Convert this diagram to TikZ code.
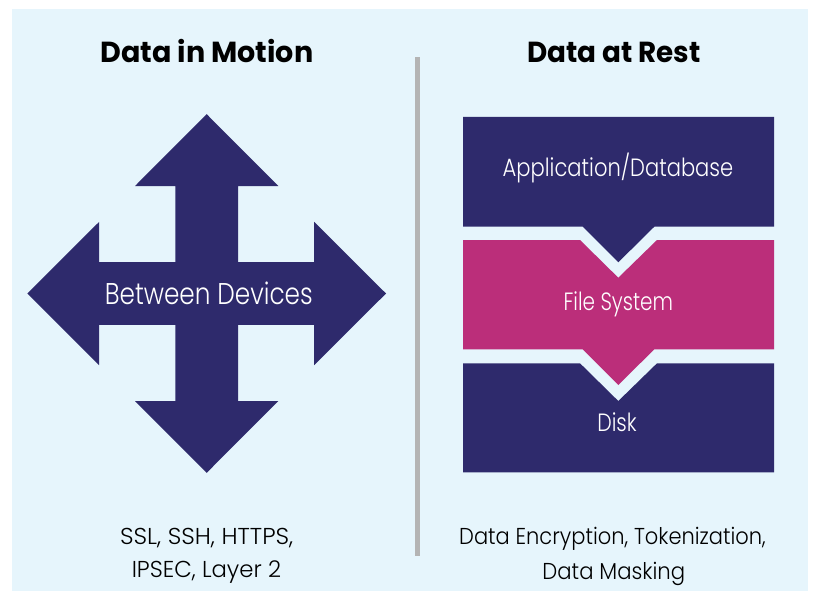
\documentclass[tikz,border=0pt]{standalone}
\usepackage{fontspec}
\usepackage{graphicx}
\setmainfont{Poppins}
\newfontfamily\titlefont{Poppins}[BoldFont={* Bold}]
\newfontfamily\bodyfont{Poppins Light}
\newcommand{\hsq}[2]{\scalebox{#1}[1]{#2}}
\definecolor{bgblue}{HTML}{E6F5FC}
\definecolor{navy}{HTML}{2E2A6C}
\definecolor{pinkish}{HTML}{BB2E7A}
\definecolor{divgray}{HTML}{B4B4B4}
\tikzset{
  titletxt/.style={inner sep=0pt, anchor=base, font=\titlefont\bfseries\fontsize{29}{32}\selectfont, text=black},
  bodytxt/.style={inner sep=0pt, anchor=base, font=\bodyfont\fontsize{23}{26}\selectfont, text=black},
  boxtxt/.style={inner sep=0pt, anchor=base, font=\bodyfont\fontsize{25}{28}\selectfont, text=white},
}
\begin{document}
\begin{tikzpicture}[x=1pt,y=-1pt]
\useasboundingbox (0,0) rectangle (813,591);
\fill[bgblue] (12,9) rectangle (808,591);
% divider
\fill[divgray] (415,57.5) rectangle (419.5,556);
% titles
\node[titletxt] (t1) at (207,63) {\hsq{0.985}{Data in Motion}};
\node[titletxt] (t2) at (614,63) {\hsq{0.96}{Data at Rest}};
% four-way arrow
\begin{scope}[shift={(206.7,293.5)}]
\fill[navy] (0,-179.3) -- (71.7,-107.5) -- (31.3,-107.5) -- (31.3,-31.3)
  -- (107.5,-31.3) -- (107.5,-71.7) -- (179.3,0) -- (107.5,71.7) -- (107.5,31.3)
  -- (31.3,31.3) -- (31.3,107.5) -- (71.7,107.5) -- (0,179.3) -- (-71.7,107.5)
  -- (-31.3,107.5) -- (-31.3,31.3) -- (-107.5,31.3) -- (-107.5,71.7) -- (-179.3,0)
  -- (-107.5,-71.7) -- (-107.5,-31.3) -- (-31.3,-31.3) -- (-31.3,-107.5)
  -- (-71.7,-107.5) -- cycle;
\end{scope}
\node[boxtxt,font=\bodyfont\fontsize{30}{32}\selectfont] (bd) at (208.8,304) {\hsq{0.826}{Between Devices}};
% stack
\fill[navy] (463,117) -- (774,117) -- (774,226.7) -- (654.3,226.7) -- (618.3,262.3)
  -- (582.7,226.7) -- (463,226.7) -- cycle;
\fill[pinkish] (463,240) -- (580,240) -- (618.3,277.7) -- (657,240) -- (774,240)
  -- (774,349.3) -- (654.3,349.3) -- (618.3,385) -- (582.7,349.3) -- (463,349.3) -- cycle;
\fill[navy] (463,363.3) -- (580,363.3) -- (618.3,401) -- (657,363.3) -- (774,363.3)
  -- (774,472.3) -- (463,472.3) -- cycle;
\node[boxtxt] (app) at (618,176.7) {\hsq{0.843}{Application/Database}};
\node[boxtxt] (fs) at (618.3,310) {\hsq{0.80}{File System}};
\node[boxtxt] (disk) at (617,431) {\hsq{0.82}{Disk}};
% bottom texts
\node[bodytxt] (l1) at (206.7,544.3) {\hsq{1.03}{SSL, SSH, HTTPS,}};
\node[bodytxt] (l2) at (206.4,577) {\hsq{0.99}{IPSEC, Layer 2}};
\node[bodytxt] (r1) at (612.5,544.3) {\hsq{0.913}{Data Encryption, Tokenization,}};
\node[bodytxt] (r2) at (613.8,579) {\hsq{0.922}{Data Masking}};
\end{tikzpicture}
\end{document}
